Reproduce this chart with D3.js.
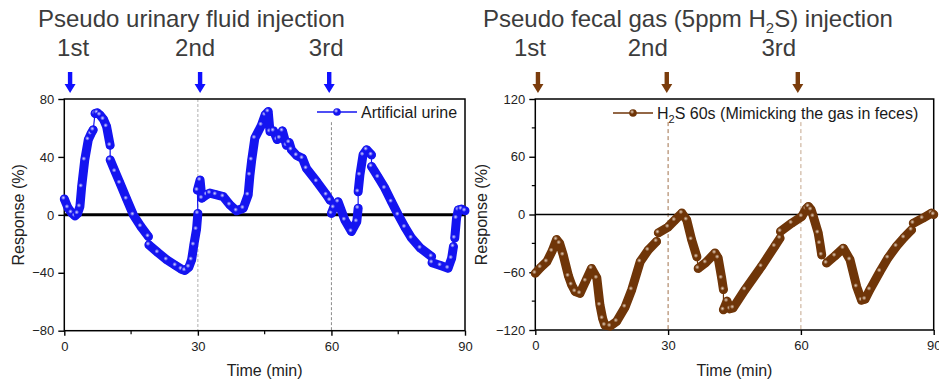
<!DOCTYPE html>
<html>
<head>
<meta charset="utf-8">
<script src="https://cdn.jsdelivr.net/npm/d3@7"></script>
<style>
  body { margin: 0; background: #fff; }
  svg { font-family: "Liberation Sans", Arial, sans-serif; }
</style>
</head>
<body>
<svg id="chart" width="939" height="382"></svg>
<script>
// Injection times (min) and their labels
const injectionLabels = ["1st", "2nd", "3rd"];
const urineArrowT = [1.3, 30.5, 59.5];
const gasArrowT = [0.6, 29.7, 59.3];

// Artificial urine response (%), split where the recorded trace jumps
const urineSegments = [
  [[0, 11], [0.8, 5], [1.6, 1.5], [2.4, -0.7], [3.0, 1], [3.5, 5.7], [3.9, 19.5], [4.6, 38], [5.4, 52], [6.0, 56], [6.5, 58.7]],
  [[6.9, 70], [7.4, 70.5], [8.0, 69], [8.8, 66], [9.5, 61], [10.3, 48]],
  [[10.3, 38], [11.4, 30], [12.5, 22], [14, 11], [15.5, 0], [17.2, -8], [18.9, -15]],
  [[19, -20.7], [21, -26], [23, -31], [25, -35], [26.3, -37.5], [27.1, -38.4], [28, -36], [28.6, -31], [29.1, -20.7], [29.7, -10], [30, 1]],
  [[29.9, 17], [30.5, 24], [30.9, 11.5], [32, 14], [32.7, 15], [34, 14], [35.7, 12.6], [37.2, 6.9], [38.7, 2.8], [40.2, 4.6],
   [41.3, 13.8], [41.7, 27.6], [42.1, 38], [42.8, 53], [44.3, 62], [45.1, 69], [45.8, 71.3], [46.2, 57.5], [47, 58],
   [47.8, 52], [48.4, 53], [49, 58], [49.9, 48], [50.5, 50], [51, 45], [52.2, 41], [53.5, 39], [54.4, 32], [56.7, 23],
   [58.9, 13.8], [59.7, 10]],
  [[60, 1], [60.5, 5], [61.5, 9], [63, -3.5], [64.5, -11.5], [65.7, -4.6], [66, 4.6]],
  [[66, 16], [66.4, 27.6], [67.1, 41.4], [67.9, 45], [69, 41.4]],
  [[69, 33.4], [70.5, 26], [72, 18.4], [73.5, 9], [75, 0], [76.5, -8.5], [78, -16], [80, -23], [82.5, -28.8]],
  [[82.6, -33], [84.5, -35], [86.2, -36.8], [87, -30], [87.4, -21.9]],
  [[87.7, -16], [88.1, -2.3], [88.5, 3.5], [89.2, 4], [90, 2.8]]
];

// H2S 60 s response (%)
const gasSegments = [
  [[0, -61], [1.2, -55], [2.6, -49], [3.8, -38], [4.8, -26], [5.5, -30], [6.3, -42], [7.5, -64], [8.2, -73], [9, -80],
   [10.1, -82], [11.4, -69], [12.7, -56], [13.9, -66], [14.6, -94], [15.2, -108], [15.7, -115], [16.9, -116], [18.4, -111],
   [20.3, -96], [21.8, -78], [23.7, -49], [25.5, -37], [27.4, -28]],
  [[27.8, -19], [30, -13], [31.5, -6], [33.1, 1.5], [34.2, -5.5], [35.3, -26], [36.5, -44]],
  [[36.8, -56], [38.5, -50], [40.6, -40], [41.3, -45], [42.1, -66], [42.5, -78]],
  [[42.5, -99], [43.3, -90], [44.0, -98], [44.7, -97], [47.4, -78], [51.1, -54], [54.1, -33], [55.3, -24.5]],
  [[55.4, -17.6], [57.9, -9], [60.2, -2], [61.2, 6], [61.7, 8.3], [62.3, 5], [62.8, -2], [63.9, -19], [64.3, -30], [64.7, -42]],
  [[65.8, -50.5], [67.7, -43], [69.6, -35], [71.1, -47], [72.6, -75], [73.7, -89], [74.5, -88], [75.6, -78], [77.9, -59],
   [79.7, -45], [81.6, -33], [83.3, -24], [85, -16]],
  [[85.4, -9], [87.5, -4], [89.5, 1.5], [90, 0]]
];

const urineYTicks = [-80, -40, 0, 40, 80];
const gasYTicks = [-120, -60, 0, 60, 120];
const gasYMinor = [-90, -30, 30, 90];
const xTicks = [0, 30, 60, 90];
const urineXMinor = [15, 45, 75];

const svg = d3.select("#chart");
const defs = svg.append("defs");

function gradient(id, light, base) {
  const g = defs.append("radialGradient").attr("id", id)
    .attr("cx", "38%").attr("cy", "35%").attr("r", "65%");
  g.append("stop").attr("offset", "0%").attr("stop-color", light);
  g.append("stop").attr("offset", "45%").attr("stop-color", base);
  g.append("stop").attr("offset", "100%").attr("stop-color", base);
}
gradient("gUrine", "#d8d8ff", "#1414f0");
gradient("gGas", "#e6d2bf", "#6f3508");

function drawPanel(p) {
  const x = d3.scaleLinear().domain([0, 90]).range(p.xRange);
  const y = d3.scaleLinear().domain(p.yDomain).range(p.yRange);
  const g = svg.append("g");

  // title and injection marks
  const title = g.append("text")
    .attr("x", p.titleX).attr("y", 27)
    .attr("font-size", 24).attr("fill", "#3c3c3c");
  p.title.forEach(part => {
    const t = title.append("tspan").text(part.t);
    if (part.sub) t.attr("font-size", 15).attr("dy", 6);
    if (part.up) t.attr("dy", -6);
  });

  g.selectAll(".inj").data(p.arrowT).enter().append("text")
    .attr("x", (d, i) => x(d) + p.labelDx[i]).attr("y", 56)
    .attr("text-anchor", "middle").attr("font-size", 24).attr("fill", "#3c3c3c")
    .text((d, i) => injectionLabels[i]);

  g.selectAll(".arrow").data(p.arrowT).enter().append("path")
    .attr("d", d => {
      const cx = x(d);
      return `M${cx - 2.2},72 L${cx + 2.2},72 L${cx + 2.2},84 L${cx + 5.5},84 L${cx},93 L${cx - 5.5},84 L${cx - 2.2},84 Z`;
    })
    .attr("fill", p.arrowColor);

  // vertical guide lines at injections
  p.guides.forEach(gd => {
    g.append("line")
      .attr("x1", x(gd.t)).attr("x2", x(gd.t))
      .attr("y1", y(gd.from)).attr("y2", y(p.yDomain[0]))
      .attr("stroke", gd.color).attr("stroke-width", 1)
      .attr("stroke-dasharray", gd.dash);
  });

  // zero line
  g.append("line")
    .attr("x1", x(0)).attr("x2", x(90)).attr("y1", y(0)).attr("y2", y(0))
    .attr("stroke", "#000").attr("stroke-width", p.zeroWidth);

  // axes
  const yAxis = d3.axisLeft(y).tickValues(p.yTicks).tickSize(6).tickPadding(4)
    .tickFormat(d => d < 0 ? "\u2212" + Math.abs(d) : d);
  const ya = g.append("g").attr("transform", `translate(${x(0)},0)`).call(yAxis);
  const xAxis = d3.axisBottom(x).tickValues(xTicks).tickSize(5).tickPadding(6);
  const xa = g.append("g").attr("transform", `translate(0,${y(p.yDomain[0])})`).call(xAxis);
  [ya, xa].forEach(a => {
    a.select(".domain").remove();
    a.selectAll("text").attr("font-size", 13).attr("fill", "#222")
      .attr("font-family", "Liberation Sans, Arial, sans-serif");
    a.selectAll("line").attr("stroke", "#000").attr("stroke-width", 1.4);
  });
  g.selectAll(".ymin").data(p.yMinor).enter().append("line")
    .attr("x1", x(0) - 3.5).attr("x2", x(0)).attr("y1", d => y(d)).attr("y2", d => y(d))
    .attr("stroke", "#000").attr("stroke-width", 1.2);
  g.selectAll(".xmin").data(p.xMinor).enter().append("line")
    .attr("x1", d => x(d)).attr("x2", d => x(d))
    .attr("y1", y(p.yDomain[0])).attr("y2", y(p.yDomain[0]) + 3.5)
    .attr("stroke", "#000").attr("stroke-width", 1.2);

  // frame
  g.append("rect")
    .attr("x", x(0)).attr("y", y(p.yDomain[1]))
    .attr("width", x(90) - x(0)).attr("height", y(p.yDomain[0]) - y(p.yDomain[1]))
    .attr("fill", "none").attr("stroke", "#000").attr("stroke-width", 1.5);

  // series
  const line = d3.line().x(d => x(d[0])).y(d => y(d[1]));
  const all = p.segments.flat();
  g.append("path").attr("d", line(all))
    .attr("fill", "none").attr("stroke", p.color).attr("stroke-width", 1.2);
  g.selectAll(".band").data(p.segments).enter().append("path")
    .attr("d", line)
    .attr("fill", "none").attr("stroke", p.color).attr("stroke-width", 9)
    .attr("stroke-linejoin", "round").attr("stroke-linecap", "round");
  g.selectAll(".pt").data(all).enter().append("circle")
    .attr("cx", d => x(d[0])).attr("cy", d => y(d[1])).attr("r", 4)
    .attr("fill", `url(#${p.grad})`);

  // legend
  const lx = p.legendX, ly = p.legendY;
  g.append("line").attr("x1", lx).attr("x2", lx + 40).attr("y1", ly).attr("y2", ly)
    .attr("stroke", p.color).attr("stroke-width", 1.6);
  g.append("circle").attr("cx", lx + 20).attr("cy", ly).attr("r", 3.8)
    .attr("fill", `url(#${p.grad})`);
  const lt = g.append("text").attr("x", lx + 44).attr("y", ly + 5.5)
    .attr("font-size", 16).attr("fill", "#1a1a1a");
  p.legend.forEach(part => {
    const t = lt.append("tspan").text(part.t);
    if (part.sub) t.attr("font-size", 11).attr("dy", 4);
    if (part.up) t.attr("dy", -4);
  });

  // axis titles
  g.append("text")
    .attr("transform", `translate(${p.yTitleX},${(y(p.yDomain[0]) + y(p.yDomain[1])) / 2}) rotate(-90)`)
    .attr("text-anchor", "middle").attr("dy", "0.35em")
    .attr("font-size", 16).attr("fill", "#222").text("Response (%)");
  g.append("text")
    .attr("x", (x(0) + x(90)) / 2).attr("y", 376)
    .attr("text-anchor", "middle").attr("font-size", 16).attr("fill", "#222").text("Time (min)");
}

drawPanel({
  xRange: [64.3, 465], yDomain: [-80, 80], yRange: [330.7, 99],
  title: [{ t: "Pseudo urinary fluid injection" }], titleX: 38,
  arrowT: urineArrowT, labelDx: [3, -5, -3], arrowColor: "#1010ff",
  guides: [{ t: 30, from: 80, color: "#b0b0b0", dash: "3,2" }, { t: 60, from: 64, color: "#8c8c8c", dash: "3,2" }],
  zeroWidth: 3, yTicks: urineYTicks, yMinor: [], xMinor: urineXMinor,
  segments: urineSegments, color: "#1414f0", grad: "gUrine",
  legendX: 317, legendY: 112, legend: [{ t: "Artificial urine" }], yTitleX: 18
});

drawPanel({
  xRange: [535.3, 933.7], yDomain: [-120, 120], yRange: [330, 99],
  title: [{ t: "Pseudo fecal gas (5ppm H" }, { t: "2", sub: true }, { t: "S) injection", up: true }], titleX: 483,
  arrowT: gasArrowT, labelDx: [-8, -19, -19], arrowColor: "#7a3c0c",
  guides: [{ t: 30, from: 96, color: "#a0714a", dash: "4,3" }, { t: 60, from: 96, color: "#c4a78c", dash: "4,3" }],
  zeroWidth: 1.5, yTicks: gasYTicks, yMinor: gasYMinor, xMinor: [],
  segments: gasSegments, color: "#6f3508", grad: "gGas",
  legendX: 613, legendY: 113, legend: [{ t: "H" }, { t: "2", sub: true }, { t: "S 60s (Mimicking the gas in feces)", up: true }], yTitleX: 481.5
});
</script>
</body>
</html>
